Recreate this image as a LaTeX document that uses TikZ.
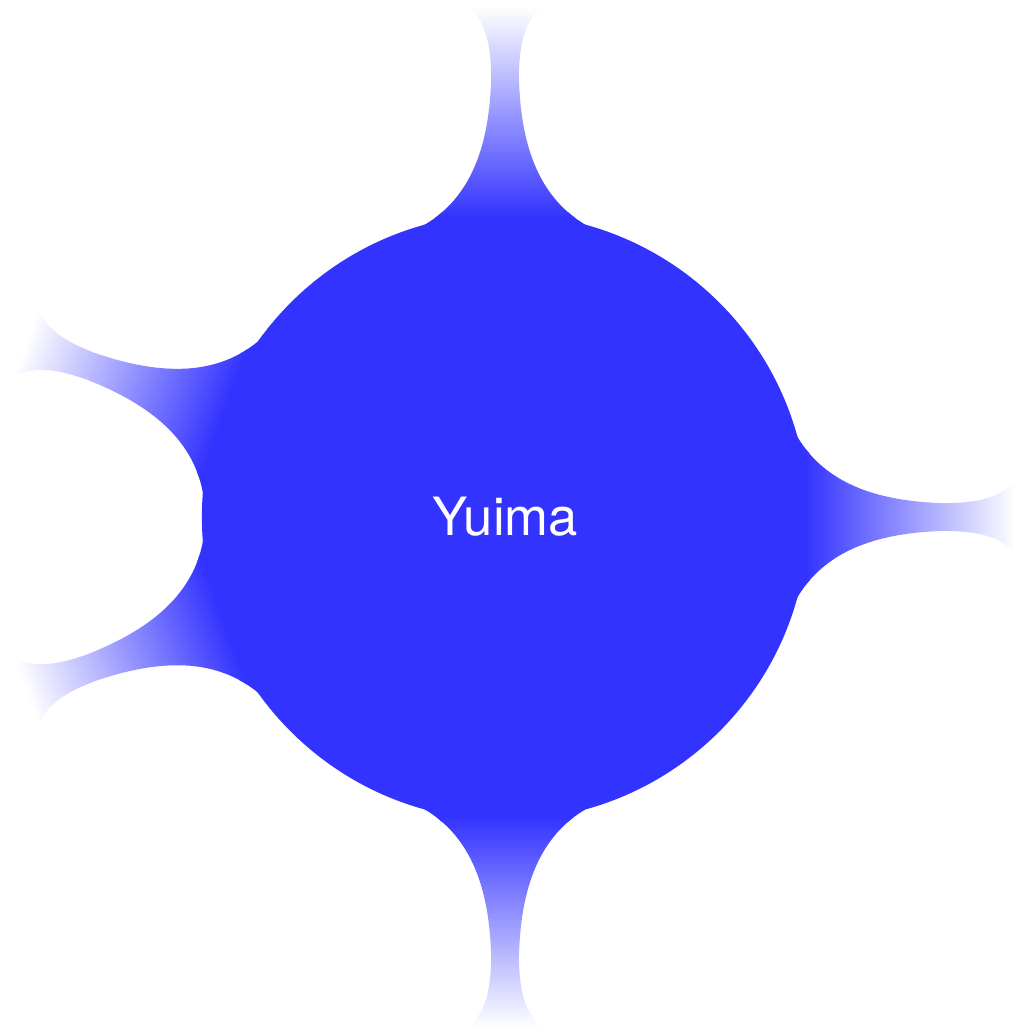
\documentclass[tikz,border=0pt]{standalone}
\usepackage{fontspec}
\setsansfont{TeX Gyre Heros}
\usetikzlibrary{mindmap}

\begin{document}
\begin{tikzpicture}[mindmap, concept color=blue!80, text=white,
    every node/.style={concept},
    root concept/.append style={minimum size=4cm, font=\sffamily\normalsize},
    level 1 concept/.append style={level distance=4.45cm, minimum size=2.1cm}]

    % page frame
    \useasboundingbox (-3.367,-3.413) rectangle (3.4,3.447);

    % root with its five faded branches
    \node[root concept] (yuima) {Yuima}
      child[grow=90, concept color=white] {node (up) {}}
      child[grow=0, concept color=white] {node (right) {}}
      child[grow=-90, concept color=white] {node (down) {}}
      child[grow=200, concept color=white] {node (lowleft) {}}
      child[grow=160, concept color=white] {node (upleft) {}};

\end{tikzpicture}
\end{document}
